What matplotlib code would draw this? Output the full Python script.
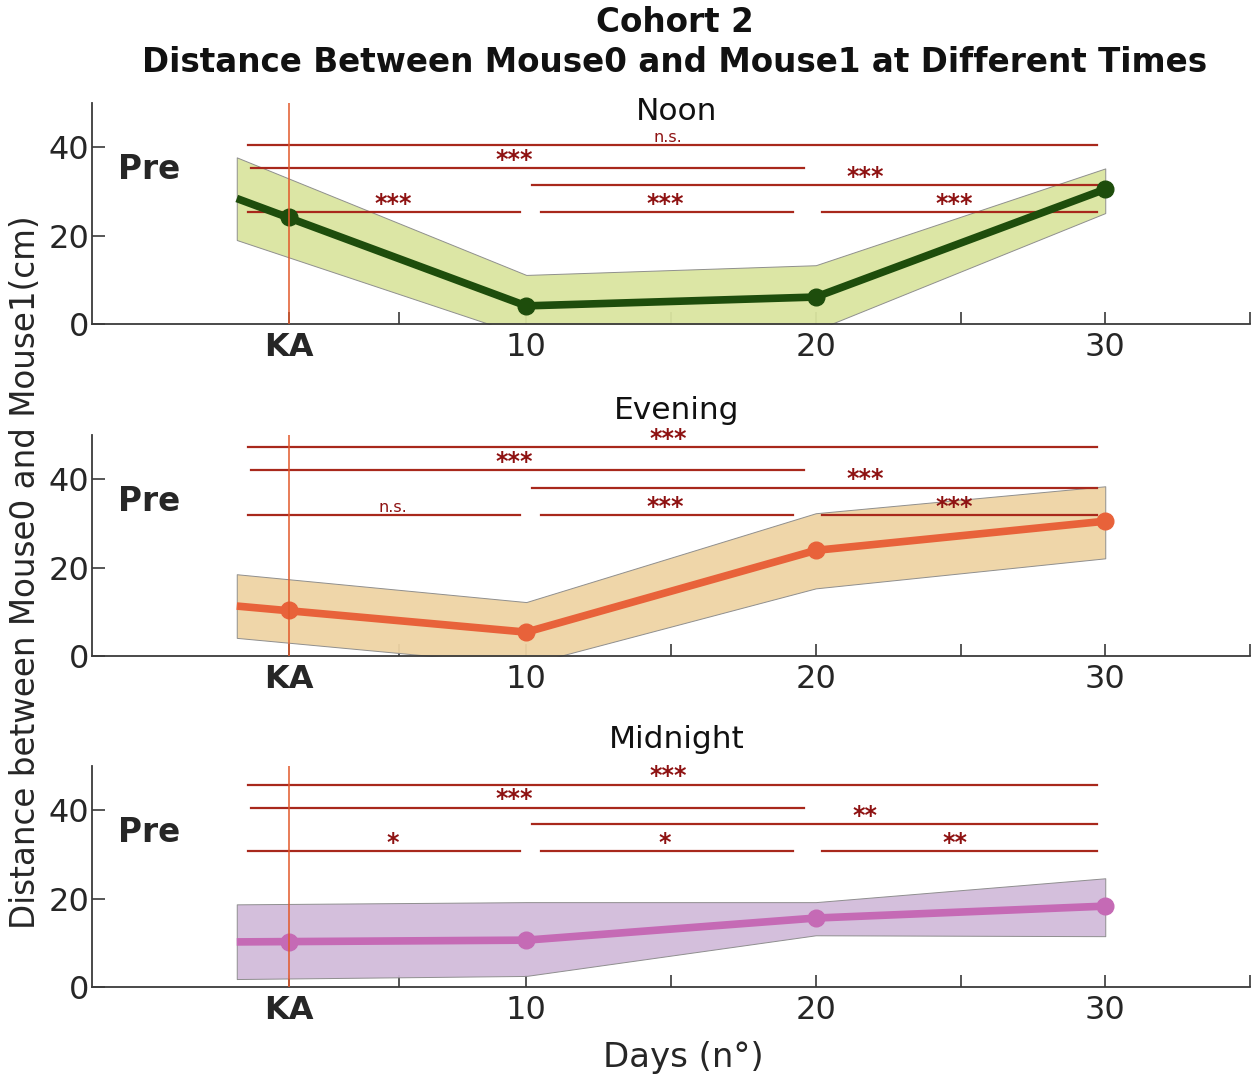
import matplotlib
matplotlib.use('Agg')
import matplotlib.pyplot as plt

# sampled days (day 0 = baseline "Pre"), KA injection day
days    = [0, 10, 20, 30]
kaDay   = 1.8
periods = ['Noon', 'Evening', 'Midnight']

# mean distance and shaded band per period
noonMean      = [28.4, 4.1, 6.1, 30.5]
noonUpper     = [37.7, 11.1, 13.3, 35.2]
noonLower     = [19.0, -2.8, -1.4, 25.1]
noonKA        = 24.2

eveningMean   = [11.3, 5.4, 23.9, 30.5]
eveningUpper  = [18.5, 12.2, 32.3, 38.4]
eveningLower  = [4.1, -2.0, 15.3, 22.1]
eveningKA     = 10.4

midnightMean  = [10.2, 10.6, 15.6, 18.3]
midnightUpper = [18.7, 19.2, 19.2, 24.6]
midnightLower = [1.8, 2.5, 11.7, 11.5]
midnightKA    = 10.2

# significance bars: start, end, label x
barStart  = [0.4, 0.5, 10.2, 0.4, 10.5, 20.2]
barEnd    = [29.7, 19.6, 29.7, 9.8, 19.2, 29.7]
barLabelX = [14.9, 9.6, 21.7, 5.4, 14.8, 24.8]

noonBarY      = [40.4, 35.2, 31.4, 25.3, 25.3, 25.3]
noonStars     = ['n.s.', '***', '***', '***', '***', '***']
eveningBarY   = [47.2, 42.0, 38.1, 31.8, 31.8, 31.8]
eveningStars  = ['***', '***', '***', 'n.s.', '***', '***']
midnightBarY  = [45.8, 40.6, 36.8, 30.7, 30.7, 30.7]
midnightStars = ['***', '***', '**', '*', '*', '**']

xTicks      = [kaDay, 5.6, 10, 15, 20, 25, 30, 35]
xTickLabels = ['KA', '', '10', '', '20', '', '30', '']

lineColors = ['#1e4d0c', '#e8623a', '#c56ab5']
fillColors = ['#dbe5a0', '#efd4a5', '#d2bcdb']
sigColor   = '#a8281c'
starColor  = '#8e1212'
kaColor    = '#e2582a'
axColor    = '#3a3a3a'

means  = [noonMean, eveningMean, midnightMean]
uppers = [noonUpper, eveningUpper, midnightUpper]
lowers = [noonLower, eveningLower, midnightLower]
kaVals = [noonKA, eveningKA, midnightKA]
barYs  = [noonBarY, eveningBarY, midnightBarY]
stars  = [noonStars, eveningStars, midnightStars]

fig = plt.figure(figsize=(12.57, 10.8), dpi=100)

axBottoms = [1 - 324/1080, 1 - 656/1080, 1 - 987/1080]
axLeft    = 92/1257
axWidth   = (1250 - 92)/1257
axHeight  = 221/1080
titleY    = [0.962, 1.113, 1.118]

for i, period in enumerate(periods):
    ax = fig.add_axes([axLeft, axBottoms[i], axWidth, axHeight])
    ax.set_axisbelow(True)

    ax.fill_between(days, lowers[i], uppers[i], facecolor=fillColors[i],
                    edgecolor='#8a8a8a', linewidth=0.7, alpha=0.95, zorder=1)
    ax.plot(days, means[i], color=lineColors[i], lw=5.5, zorder=3,
            solid_capstyle='butt')
    ax.plot([kaDay] + days[1:], [kaVals[i]] + means[i][1:], 'o',
            color=lineColors[i], markersize=12, zorder=4)
    ax.axvline(kaDay, color=kaColor, lw=1.1, zorder=5)

    for x0, x1, xl, y, s in zip(barStart, barEnd, barLabelX, barYs[i], stars[i]):
        ax.plot([x0, x1], [y, y], color=sigColor, lw=1.6, zorder=2)
        if s == 'n.s.':
            ax.text(xl, y + 0.1, s, color=starColor, fontsize=11.5,
                    ha='center', va='bottom', zorder=6)
        else:
            ax.text(xl, y - 0.8, s, color=starColor, fontsize=17,
                    fontweight='bold', ha='center', va='bottom', zorder=6)

    ax.text(-4.1, 35, 'Pre', fontsize=23.5, fontweight='bold',
            color='#262626', ha='left', va='center')
    ax.text(0.505, titleY[i], period, transform=ax.transAxes,
            fontsize=22.5, ha='center', va='center', color='#111111')

    ax.set_xlim(-5, 35)
    ax.set_ylim(0, 50)
    ax.set_yticks([0, 20, 40])
    ax.set_xticks(xTicks)
    ax.set_xticklabels(xTickLabels)
    ax.get_xticklabels()[0].set_fontweight('bold')
    ax.get_xticklabels()[0].set_fontsize(24)

    for side in ['top', 'right']:
        ax.spines[side].set_visible(False)
    for side in ['left', 'bottom']:
        ax.spines[side].set_color(axColor)
        ax.spines[side].set_linewidth(1.3)
    ax.tick_params(direction='in', length=9, width=1.2, color=axColor,
                   labelsize=23, labelcolor='#262626')
    ax.tick_params(axis='x', pad=6)
    ax.tick_params(axis='y', pad=2)

fig.text(0.537, 1 - 22/1080, 'Cohort 2', ha='center', va='center',
         fontsize=23.5, fontweight='bold', color='#111111')
fig.text(0.537, 1 - 63/1080,
         'Distance Between Mouse0 and Mouse1 at Different Times',
         ha='center', va='center', fontsize=23.5, fontweight='bold',
         color='#111111')
fig.text(26/1257, 1 - 572/1080, 'Distance between Mouse0 and Mouse1(cm)',
         rotation=90, ha='center', va='center', fontsize=23.5, color='#262626')
fig.text(683/1257, 1 - 1057/1080, 'Days (n°)', ha='center', va='center',
         fontsize=24.5, color='#262626')

fig.savefig('out.png', dpi=100)
